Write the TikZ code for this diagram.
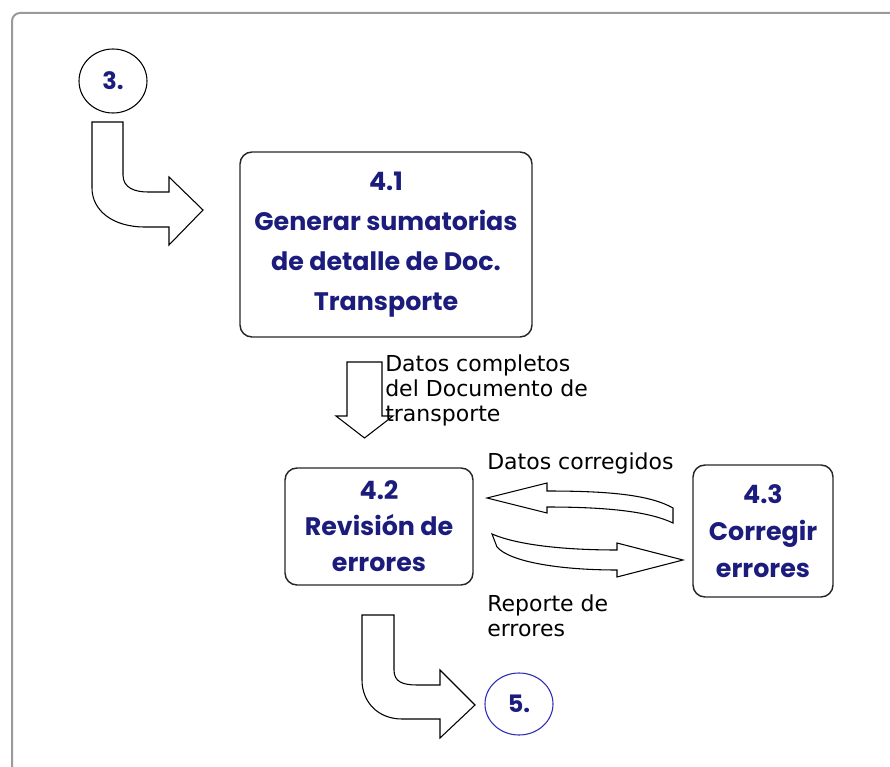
\documentclass[tikz,border=0pt]{standalone}
\usepackage{fontspec}
\setmainfont{DejaVu Sans}
\newfontfamily\procfont{Poppins}
\usetikzlibrary{shapes.geometric}
\definecolor{navy}{HTML}{1C1C7C}
\definecolor{blueline}{HTML}{2A2AB4}
\definecolor{framegray}{HTML}{9A9A9A}

\begin{document}
\begin{tikzpicture}[x=0.75pt,y=-0.75pt,
  proc/.style={draw=black!85,line width=1.1pt,rounded corners=9pt,align=center,text=navy},
  bubble/.style={ellipse,draw,line width=0.8pt,minimum width=51pt,minimum height=48pt,inner sep=0pt,text=navy,font=\procfont\bfseries\fontsize{18}{20}\selectfont},
  lbl/.style={anchor=north west,align=left,inner sep=0pt,font=\fontsize{16.5}{18.75}\selectfont},
  fat/.style={draw,line width=0.8pt,fill=white,line join=miter}]
\useasboundingbox (0,0) rectangle (890,767);
% marco
\draw[framegray,line width=1.5pt,rounded corners=6pt] (12,767) -- (12,13) -- (890,13);

\node[bubble](n3) at (113,81){3.};
\node[proc,minimum width=219pt,minimum height=138.75pt,
  font=\procfont\bfseries\fontsize{19}{30}\selectfont](p41) at (386,244.5)
  {4.1\\Generar sumatorias\\de detalle de Doc.\\Transporte};
\node[proc,minimum width=141pt,minimum height=87.75pt,
  font=\procfont\bfseries\fontsize{19}{27}\selectfont](p42) at (379,526.5)
  {4.2\\Revisión de\\errores};
\node[proc,minimum width=105pt,minimum height=99pt,
  font=\procfont\bfseries\fontsize{19}{28}\selectfont](p43) at (763,531)
  {4.3\\Corregir\\errores};
\node[bubble,draw=blueline,minimum height=46.5pt](n5) at (519,704){5.};

% flechas
\draw[fat] (92,122) -- (123,122) -- (123,175) .. controls (123,188) and (135,192) .. (148,192)
  -- (169,192) -- (169,177) -- (203,210) -- (169,245) -- (169,227) -- (145,227)
  .. controls (112,227) and (92,210) .. (92,188) -- cycle;
\draw[fat] (347,362) -- (382,362) -- (382,416) -- (393,416) -- (364.5,438) -- (336,416) -- (347,416) -- cycle;
\draw[fat] (487,498) -- (547,483) -- (547,491) .. controls (610,491) and (650,495) .. (673,508)
  -- (673,523) .. controls (650,512) and (610,507) .. (547,507) -- (547,513) -- cycle;
\draw[fat] (492,534) .. controls (520,546) and (570,550) .. (617,550) -- (617,543) -- (683,560)
  -- (617,577) -- (617,570) .. controls (560,570) and (510,562) .. (497,547) -- cycle;
\draw[fat] (362,615) -- (394,615) -- (394,670) .. controls (394,682) and (403,685) .. (417,685)
  -- (440,685) -- (440,670) -- (475,705) -- (440,738) -- (440,719) -- (402,719)
  .. controls (378,719) and (362,702) .. (362,680) -- cycle;

\node[lbl](l1) at (385,355){Datos completos\\del Documento de\\transporte};
\node[lbl](l2) at (487,453){Datos corregidos};
\node[lbl](l3) at (487,595){Reporte de\\errores};
\end{tikzpicture}
\end{document}
